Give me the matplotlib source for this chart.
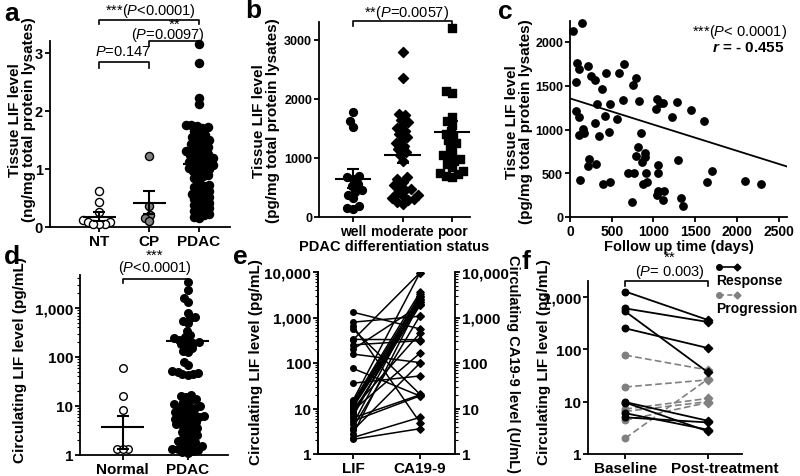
#!/usr/bin/env python3
"""
Six-panel summary of LIF levels in tissue and circulation.
"""

import numpy as np
import matplotlib
matplotlib.use("Agg")
import matplotlib.pyplot as plt
from matplotlib.lines import Line2D
from matplotlib.transforms import ScaledTranslation
from matplotlib.ticker import FixedLocator, FuncFormatter, LogLocator, NullLocator

# ---- data ----
# a: tissue LIF (ng/mg)
a_groups = ["NT", "CP", "PDAC"]
a_nt = [0.62, 0.43, 0.26, 0.12, 0.09, 0.08, 0.06, 0.05, 0.05]
a_cp = [1.23, 0.36, 0.20, 0.16, 0.10]
a_pdac = [3.15, 2.82, 2.22, 2.12, 1.76, 1.75, 1.74, 1.72, 1.70, 1.66, 1.62, 1.58,
          1.55, 1.52, 1.50, 1.47, 1.45, 1.42, 1.40, 1.38, 1.35, 1.33, 1.30, 1.28,
          1.26, 1.24, 1.22, 1.20, 1.18, 1.16, 1.14, 1.12, 1.10, 1.08, 1.06, 1.04,
          1.02, 1.00, 0.98, 0.96, 0.93, 0.90, 0.87, 0.84, 0.80, 0.72, 0.70, 0.68,
          0.65, 0.62, 0.60, 0.57, 0.55, 0.52, 0.50, 0.48, 0.45, 0.42, 0.40, 0.38,
          0.35, 0.32, 0.30, 0.28, 0.25, 0.22, 0.20, 0.18, 0.15]
a_mean = [0.18, 0.42, 1.08]
a_sem = [0.08, 0.20, 0.06]

# b: tissue LIF (pg/mg) by differentiation
b_groups = ["well", "moderate", "poor"]
b_well = [1780, 1620, 1530, 700, 680, 650, 560, 520, 450, 430, 380, 330, 180, 150, 140]
b_moderate = [2800, 2350, 1750, 1720, 1650, 1600, 1550, 1500, 1450, 1400, 1350, 1300,
              1250, 1200, 1150, 1100, 1050, 950, 680, 650, 600, 550, 500, 480, 450,
              400, 380, 350, 320, 300, 280, 250, 220]
b_poor = [3200, 2130, 2100, 1700, 1620, 1560, 1450, 1400, 1350, 1300, 1250, 1200,
          1100, 1050, 1000, 980, 950, 900, 850, 780, 750, 720, 700, 680]
b_mean = [650, 1045, 1440]
b_sem = [160, 125, 190]

# c: tissue LIF vs follow up time
c_days = [40, 140, 88, 112, 72, 220, 248, 300, 380, 432, 320, 480, 420, 560, 592, 648,
          760, 792, 640, 832, 1040, 1032, 1080, 1120, 1220, 1280, 1452, 1608, 72, 112,
          152, 112, 168, 348, 300, 472, 848, 232, 220, 312, 120, 392, 480, 820, 792,
          900, 900, 860, 700, 768, 908, 872, 928, 740, 1060, 1060, 1060, 1048, 1128,
          1112, 1292, 1332, 1352, 1700, 1640, 2100, 2288]
c_lif = [2125, 2212, 1765, 1689, 1548, 1727, 1613, 1567, 1461, 1643, 1290, 1290, 1157,
         1120, 1643, 1753, 1507, 1594, 1340, 1328, 1347, 1233, 1298, 1298, 1138, 1317,
         1226, 1101, 1214, 1138, 1006, 937, 956, 930, 1074, 975, 960, 664, 588, 607,
         425, 372, 398, 797, 702, 732, 683, 626, 505, 505, 505, 380, 398, 171, 600,
         505, 292, 247, 292, 190, 657, 220, 125, 524, 398, 417, 380]
c_fit_x = [0, 2600]
c_fit_y = [1355, 577]

# d: circulating LIF (pg/mL)
d_groups = ["Normal", "PDAC"]
d_normal = [60, 16, 8.2, 1.35, 1.3, 1.3]
d_pdac = [3340, 2370, 1570, 1300, 790, 665, 615, 550, 490, 345, 280, 260, 240, 225,
          210, 200, 190, 180, 165, 150, 135, 125, 80, 67, 52, 49, 47, 45, 44, 42,
          17, 16, 15, 14, 13, 12, 11, 10.5, 10, 9.5, 9, 8.5, 8, 7.5, 7, 6.8, 6.5,
          6.2, 6, 5.8, 5.5, 5.2, 5, 4.8, 4.5, 4.2, 4, 3.8, 3.5, 3.3, 3, 2.8, 2.6,
          2.4, 2.2, 2, 1.9, 1.8, 1.7, 1.6, 1.5, 1.4, 1.35, 1.3, 1.25, 1.2, 1.15, 1.1]
d_mean = [3.8, 210]
d_sem = [2.5, 60]

# e: paired LIF (pg/mL) and CA19-9 (U/mL)
e_groups = ["LIF", "CA19-9"]
e_lif = [1310, 790, 660, 560, 330, 320, 250, 200, 157, 76, 36, 15, 14, 13, 12, 11.3,
         10.5, 9.9, 9.0, 8.3, 7.4, 6.6, 6.2, 5.3, 4.5, 3.8, 3.3, 2.7, 2.3, 2.1]
e_ca = [560, 1070, 4.9, 20.5, 325, 9700, 310, 1850, 102, 18.8, 52, 9700, 3600, 3000,
        2600, 2200, 2000, 455, 165, 1850, 2400, 3300, 20, 19, 2800, 1100, 100, 2200,
        6.4, 3.6]

# f: LIF before / after treatment
f_groups = ["Baseline", "Post-treatment"]
f_resp_base = [1260, 600, 525, 250, 9.8, 9.6, 6.0, 5.0]
f_resp_post = [360, 330, 36, 105, 4.3, 2.7, 2.9, 4.0]
f_prog_base = [77, 19, 7.2, 6.5, 4.4, 2.0]
f_prog_post = [40, 26, 11.5, 10, 9.6, 27]

# ---- style ----
plt.rcParams["font.family"] = ["Liberation Sans", "DejaVu Sans"]
plt.rcParams["font.weight"] = "bold"
plt.rcParams["axes.labelweight"] = "bold"
plt.rcParams["mathtext.fontset"] = "custom"
plt.rcParams["mathtext.rm"] = "Liberation Sans:weight=normal"
plt.rcParams["mathtext.it"] = "Liberation Sans:style=italic:weight=normal"
plt.rcParams["mathtext.bf"] = "Liberation Sans:style=italic:weight=bold"
plt.rcParams["axes.linewidth"] = 1.3

GRAY = "#808080"
W, H = 800, 477
fig = plt.figure(figsize=(W / 100, H / 100), dpi=100)


def box(l, t, r, b):
    return fig.add_axes([l / W, 1 - b / H, (r - l) / W, (b - t) / H])


def ftext(px, py, s, **kw):
    fig.text(px / W, 1 - py / H, s, **kw)


def style(ax, size=10.5):
    for s in ("top", "right"):
        ax.spines[s].set_visible(False)
    ax.tick_params(direction="out", length=3.5, width=1.3, labelsize=size, pad=1.5)


def logy(ax, minor=True):
    ax.set_yscale("log")
    ax.yaxis.set_major_locator(FixedLocator([1, 10, 100, 1000, 10000]))
    ax.yaxis.set_major_formatter(FuncFormatter(lambda v, p: f"{int(round(v)):,}"))
    if minor:
        ax.yaxis.set_minor_locator(LogLocator(base=10, subs=np.arange(2, 10)))
        ax.tick_params(axis="y", which="minor", length=2, width=0.8)
    else:
        ax.yaxis.set_minor_locator(NullLocator())


def swarm_x(ax, x0, vals, diam):
    pts = ax.transData.transform(np.column_stack([np.full(len(vals), float(x0)),
                                                  np.asarray(vals, float)]))
    ys = pts[:, 1]
    xc = pts[0, 0]
    offs = np.zeros(len(vals))
    placed = []
    for i in np.argsort(ys):
        y = ys[i]
        near = [(px, py) for px, py in placed if abs(py - y) < diam]
        cands = [0.0]
        for px, py in near:
            dx = np.sqrt(diam ** 2 - (py - y) ** 2)
            cands += [px + dx, px - dx]
        cands.sort(key=lambda c: (abs(c), c))
        for c in cands:
            if all((c - px) ** 2 + (y - py) ** 2 >= diam ** 2 - 1e-6 for px, py in near):
                break
        offs[i] = c
        placed.append((c, y))
    return ax.transData.inverted().transform(np.column_stack([xc + offs, ys]))[:, 0]


def mean_sem(ax, x, m, e, half=0.33, cap=4):
    ax.hlines(m, x - half, x + half, colors="k", lw=1.5, zorder=4)
    ax.errorbar(x, m, yerr=e, fmt="none", ecolor="k", elinewidth=1.5,
                capsize=cap, capthick=1.5, zorder=4)


def bracket(ax, x1, x2, y, drop):
    tr = ax.get_xaxis_transform()
    ax.plot([x1, x1, x2, x2], [y - drop, y, y, y - drop], color="k", lw=1.2,
            transform=tr, clip_on=False)


def btext(ax, x, y, s, size=10.5, weight="normal"):
    ax.text(x, y, s, transform=ax.get_xaxis_transform(), ha="center", va="center",
            fontsize=size, fontweight=weight)


def letter(px, py, s):
    ftext(px, py, s, fontsize=19, fontweight="heavy", ha="center", va="center")


def ylab(px, py, s, size=11, rot=90):
    ftext(px, py, s, fontsize=size, rotation=rot, ha="center", va="center",
          linespacing=0.92)


# ---- a ----
ax = box(50, 42, 230, 228)
style(ax)
ax.set_xlim(-0.98, 2.62)
ax.set_ylim(0, 3.2)
ax.set_yticks([0, 1, 2, 3])
ax.set_xticks(range(3), a_groups)
ax.tick_params(axis="x", labelsize=11)
for i, (vals, fc) in enumerate([(a_nt, "white"), (a_cp, GRAY), (a_pdac, "black")]):
    xs = swarm_x(ax, i, vals, 5.6)
    ax.scatter(xs, vals, s=34, c=fc, edgecolors="k", linewidths=1.0, zorder=3, clip_on=False)
    mean_sem(ax, i, a_mean[i], a_sem[i], half=0.33)
bracket(ax, 0, 2, 1.113, 0.02)
btext(ax, 1.02, 1.165, "***($\\it{P}$<0.0001)")
bracket(ax, 1, 2, 1.0, 0.025)
btext(ax, 1.52, 1.095, "**", size=11)
btext(ax, 1.38, 1.038, "($\\it{P}$=0.0097)")
bracket(ax, 0, 1, 0.887, 0.03)
btext(ax, 0.48, 0.945, "$\\it{P}$=0.147")
ylab(22, 120, "Tissue LIF level\n(ng/mg total protein lysates)", size=11)
letter(12, 14, "a")

# ---- b ----
ax = box(319, 23, 470, 218)
style(ax)
ax.set_xlim(-0.69, 2.36)
ax.set_ylim(0, 3300)
ax.set_yticks([0, 1000, 2000, 3000])
ax.tick_params(axis="y", labelsize=9)
ax.tick_params(axis="x", labelsize=10)
ax.set_xticks(range(3), b_groups)
for i, (vals, mk) in enumerate([(b_well, "o"), (b_moderate, "D"), (b_poor, "s")]):
    xs = swarm_x(ax, i, vals, 6.3)
    ax.scatter(xs, vals, s=32 if mk != "D" else 26, marker=mk, c="k", zorder=3, clip_on=False)
    mean_sem(ax, i, b_mean[i], b_sem[i], half=0.37)
ax.set_xlabel("PDAC differentiation status", fontsize=10.5, labelpad=1)
bracket(ax, 0, 2, 1.003, 0.022)
btext(ax, 1.08, 1.05, "**($\\it{P}$=0.0057)")
ylab(266, 121, "Tissue LIF level\n(pg/mg total protein lysates)")
letter(253, 11, "b")

# ---- c ----
ax = box(570, 22, 787, 218)
style(ax)
ax.set_xlim(0, 2600)
ax.set_ylim(0, 2240)
ax.set_xticks([0, 500, 1000, 1500, 2000, 2500])
ax.set_yticks([0, 500, 1000, 1500, 2000])
ax.tick_params(axis="y", labelsize=9)
ax.tick_params(axis="x", labelsize=10)
ax.scatter(c_days, c_lif, s=28, c="k", zorder=3, clip_on=False)
ax.plot(c_fit_x, c_fit_y, color="k", lw=1.3)
ax.set_xlabel("Follow up time (days)", fontsize=10.5, labelpad=1)
ax.text(1.0, 0.95, "***($\\it{P}$< 0.0001)", transform=ax.transAxes, ha="right",
        va="center", fontsize=10.5, fontweight="normal")
ax.text(0.99, 0.865, "$\\mathbf{r}$ = - 0.455", transform=ax.transAxes, ha="right",
        va="center", fontsize=11, fontweight="bold")
ylab(519, 122, "Tissue LIF level\n(pg/mg total protein lysates)")
letter(505, 12, "c")

# ---- d ----
ax = box(80, 276, 228, 456)
style(ax)
logy(ax)
ax.set_ylim(1, 4700)
ax.set_xlim(-0.66, 1.62)
ax.set_xticks(range(2), d_groups)
ax.tick_params(labelsize=11)
for i, (vals, fc) in enumerate([(d_normal, "white"), (d_pdac, "black")]):
    xs = swarm_x(ax, i, vals, 5.4)
    ax.scatter(xs, vals, s=30, c=fc, edgecolors="k", linewidths=1.0, zorder=3, clip_on=False)
    mean_sem(ax, i, d_mean[i], d_sem[i], half=0.33)
bracket(ax, 0, 1, 0.978, 0.02)
btext(ax, 0.49, 1.11, "***", size=11)
btext(ax, 0.49, 1.044, "($\\it{P}$<0.0001)")
ylab(20, 360, "Circulating LIF level (pg/mL)")
letter(12, 257, "d")

# ---- e ----
ax = box(318, 273, 455, 455)
style(ax)
logy(ax)
ax.set_ylim(1, 10000)
ax.set_xlim(-0.52, 1.52)
ax.set_xticks(range(2), e_groups)
ax.tick_params(labelsize=11)
for l, c in zip(e_lif, e_ca):
    ax.plot([0, 1], [l, c], color="k", lw=1.1, zorder=2)
ax.scatter(np.zeros(len(e_lif)), e_lif, s=16, c="k", zorder=3)
ax.scatter(np.ones(len(e_ca)), e_ca, s=14, marker="D", c="k", zorder=3)
ax2 = ax.twinx()
ax2.spines["top"].set_visible(False)
ax2.tick_params(direction="out", length=3.5, width=1.3, labelsize=11, pad=1.5)
logy(ax2)
ax2.set_ylim(1, 10000)
ylab(256, 362, "Circulating LIF level (pg/mL)")
ylab(513, 364, "Circulating CA19-9 level (U/mL)", size=10.5, rot=270)
letter(240, 257, "e")

# ---- f ----
ax = box(588, 282, 742, 455)
style(ax)
logy(ax, minor=False)
ax.set_ylim(1, 2000)
ax.set_xlim(-0.45, 1.41)
ax.set_xticks(range(2), f_groups)
ax.tick_params(labelsize=11)
post_lab = ax.get_xticklabels()[1]
post_lab.set_transform(post_lab.get_transform() + ScaledTranslation(0.17, 0, fig.dpi_scale_trans))
for b, p in zip(f_prog_base, f_prog_post):
    ax.plot([0, 1], [b, p], color=GRAY, lw=1.2, ls=(0, (4, 2)), zorder=2)
ax.scatter(np.zeros(len(f_prog_base)), f_prog_base, s=22, c=GRAY, zorder=3)
ax.scatter(np.ones(len(f_prog_post)), f_prog_post, s=18, marker="D", c=GRAY, zorder=3)
for b, p in zip(f_resp_base, f_resp_post):
    ax.plot([0, 1], [b, p], color="k", lw=1.3, zorder=4)
ax.scatter(np.zeros(len(f_resp_base)), f_resp_base, s=22, c="k", zorder=5)
ax.scatter(np.ones(len(f_resp_post)), f_resp_post, s=18, marker="D", c="k", zorder=5)
bracket(ax, 0, 1, 1.0, 0.027)
btext(ax, 0.54, 1.14, "**", size=11)
btext(ax, 0.54, 1.058, "($\\it{P}$= 0.003)")
ylab(544, 362, "Circulating LIF level (pg/mL)")
letter(526, 262, "f")

# legend drawn by hand: handle above its label
for py, col, ls, name, ty in [(268, "k", "-", "Response", 281),
                               (296, GRAY, (0, (3, 2)), "Progression", 309)]:
    x1, x2, y = 719 / W, 737 / W, 1 - py / H
    fig.add_artist(Line2D([x1, x2], [y, y], color=col, lw=1.2, ls=ls,
                          transform=fig.transFigure))
    fig.add_artist(Line2D([x1], [y], marker="o", ms=4, color=col, transform=fig.transFigure))
    fig.add_artist(Line2D([x2], [y], marker="D", ms=3.5, color=col, transform=fig.transFigure))
    ftext(716, ty, name, fontsize=10, ha="left", va="center")

fig.savefig("out.png", dpi=100)
